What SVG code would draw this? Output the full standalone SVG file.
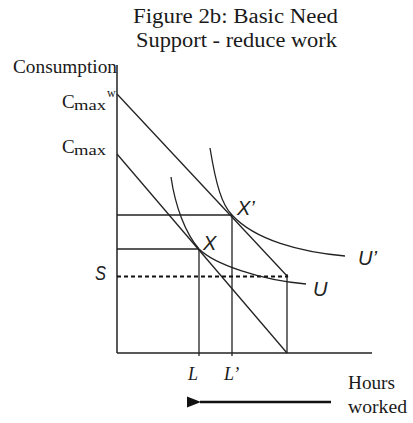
<svg xmlns="http://www.w3.org/2000/svg" width="413" height="423" viewBox="0 0 413 423">
<style>
.serif{font-family:"Liberation Serif","Times New Roman","DejaVu Serif",serif;fill:#1a1a1a}
.sans{font-family:"Liberation Sans",Arial,sans-serif;font-style:italic;fill:#222}
.ln{stroke:#222;stroke-width:1.3;fill:none}
.ax{stroke:#222;stroke-width:1.5;fill:none}
</style>
<defs>
<marker id="ah" markerWidth="14" markerHeight="12" refX="1" refY="6" orient="auto" markerUnits="userSpaceOnUse">
<polygon points="0,6 14,0.5 14,11.5" fill="#111"/>
</marker>
</defs>
<rect width="413" height="423" fill="#fff"/>
<g id="title" class="serif" font-size="20">
<text x="133" y="23" font-family="Liberation Serif, serif" textLength="205" lengthAdjust="spacingAndGlyphs">Figure 2b: Basic Need</text>
<text x="136" y="47" font-family="Liberation Serif, serif" textLength="201" lengthAdjust="spacingAndGlyphs">Support - reduce work</text>
</g>
<g id="axes">
<line class="ax" x1="117" y1="65" x2="117" y2="353"/>
<line class="ax" x1="117" y1="353" x2="372" y2="353"/>
</g>
<g id="axis-labels" class="serif">
<text x="13" y="73" font-size="18" textLength="104" lengthAdjust="spacingAndGlyphs">Consumption</text>
<text x="62" y="108" font-size="19">C</text><text x="74" y="110" font-size="15" textLength="32" lengthAdjust="spacingAndGlyphs">max</text><text x="107" y="97" font-size="12">w</text>
<text x="62" y="153" font-size="19">C</text><text x="74" y="155" font-size="15" textLength="32" lengthAdjust="spacingAndGlyphs">max</text>
<text x="348" y="389" font-size="18" textLength="47" lengthAdjust="spacingAndGlyphs">Hours</text>
<text x="348" y="413" font-size="18" textLength="59" lengthAdjust="spacingAndGlyphs">worked</text>
<text x="188" y="380" font-size="18" font-style="italic">L</text>
<text x="224" y="380" font-size="18" font-style="italic">L’</text>
</g>
<g id="connectors">
<line class="ln" x1="117" y1="94" x2="288" y2="277"/>
<line class="ln" x1="117" y1="154" x2="287" y2="353"/>
<line class="ln" x1="287" y1="274" x2="287" y2="353"/>
<line class="ln" x1="117" y1="215" x2="232" y2="215"/>
<line class="ln" x1="117" y1="249" x2="199" y2="249"/>
<line class="ln" x1="199" y1="249" x2="199" y2="356"/>
<line class="ln" x1="232" y1="215" x2="232" y2="356"/>
<line x1="117" y1="276.5" x2="288" y2="276.5" stroke="#111" stroke-width="2.2" stroke-dasharray="4,3"/>
<path id="Uprime" class="ln" d="M210,148 C216,185 222,205 232,215 C255,240 300,252 345,256"/>
<path id="U" class="ln" d="M171,177 C175,205 185,233 199,249 C214,264 260,280 306,284"/>
<line x1="331" y1="402" x2="200" y2="402" stroke="#111" stroke-width="2.6" marker-end="url(#ah)"/>
</g>
<g id="point-labels" class="sans" font-size="20">
<text x="237" y="215">X’</text>
<text x="203" y="250">X</text>
<text x="358" y="265">U’</text>
<text x="313" y="296">U</text>
<text x="95" y="280" textLength="11" lengthAdjust="spacingAndGlyphs">S</text>
</g>
</svg>
